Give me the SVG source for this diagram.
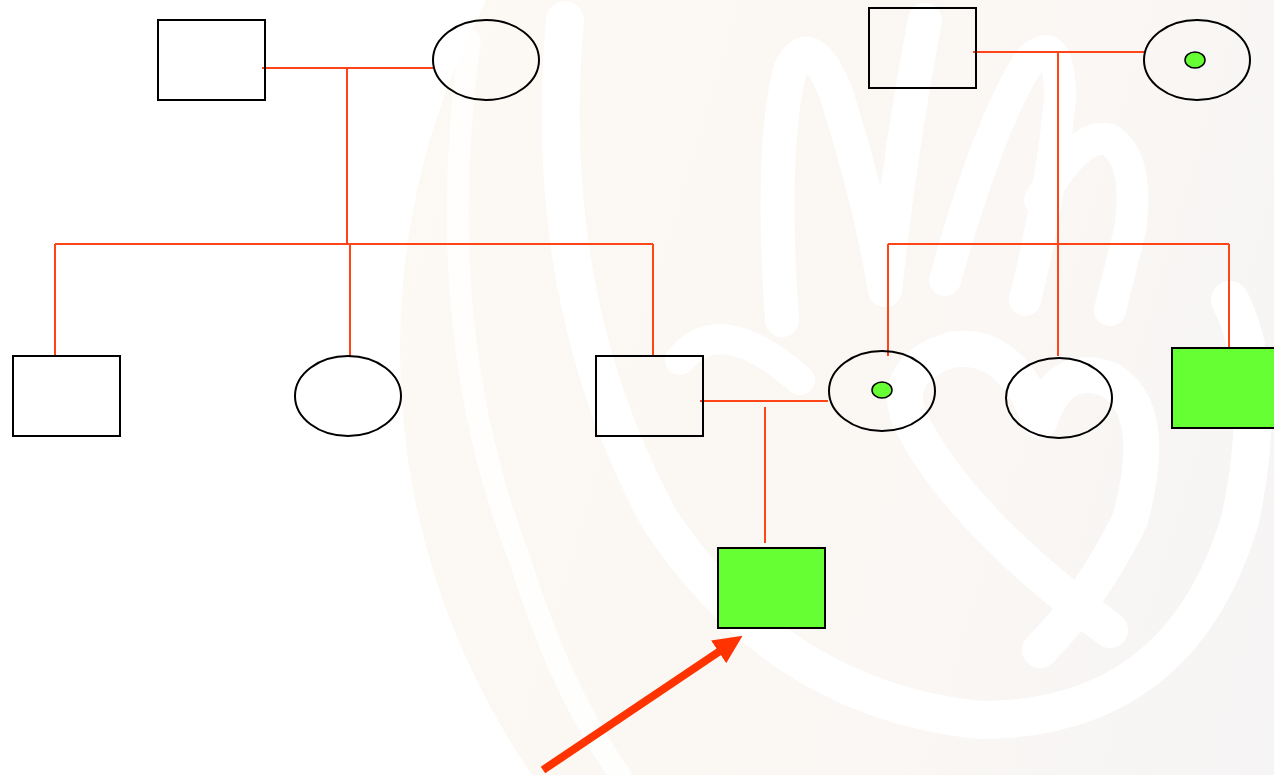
<svg xmlns="http://www.w3.org/2000/svg" width="1274" height="775" viewBox="0 0 1274 775">
  <defs>
    <linearGradient id="wash" x1="0" y1="0" x2="1" y2="0.3">
      <stop offset="0" stop-color="#fdf9f3"/>
      <stop offset="0.5" stop-color="#faf7f4"/>
      <stop offset="1" stop-color="#f2f2f5"/>
    </linearGradient>
    <marker id="arrowhead" markerWidth="3.6" markerHeight="3.4" refX="0.2" refY="1.7" orient="auto" markerUnits="strokeWidth">
      <path d="M0,0 L3.6,1.7 L0,3.4 Z" fill="#ff3300"/>
    </marker>
    <style>
      .link { stroke: #ff4418; stroke-width: 2; fill: none; }
      .person { stroke: #000; stroke-width: 2; fill: none; }
      .affected { fill: #66ff33; }
      .carrier { stroke: #000; stroke-width: 1.5; fill: #66ff33; }
      .mark { stroke: #fff; fill: none; stroke-linecap: round; stroke-linejoin: round; }
    </style>
  </defs>

  <!-- background -->
  <rect width="1274" height="775" fill="#fff"/>
  <g id="watermark">
    <circle cx="1150" cy="350" r="750" fill="url(#wash)"/>
    <path class="mark" stroke-width="22" stroke-opacity="0.8" d="M470 40 Q430 330 520 560 Q560 690 620 775"/>
    <path class="mark" stroke-width="38" d="M565 20 Q540 300 660 520 Q780 700 980 720 Q1180 720 1240 520 Q1270 380 1230 300"/>
    <path class="mark" stroke-width="36" d="M1110 630 Q960 520 910 420 Q890 370 950 350 Q1010 340 1040 420 Q1060 360 1110 380 Q1160 410 1130 520 Q1090 600 1040 650"/>
    <path class="mark" stroke-width="34" d="M782 320 Q770 150 790 70 Q810 30 835 90 Q870 200 885 290 Q900 150 925 20"/>
    <path class="mark" stroke-width="32" d="M945 280 Q990 120 1030 60 Q1060 30 1060 100 Q1050 200 1025 300"/>
    <path class="mark" stroke-width="32" d="M1040 200 Q1080 130 1110 140 Q1140 160 1130 230 L1110 310"/>
    <path class="mark" stroke-width="30" d="M680 360 Q720 310 800 380"/>
  </g>

  <!-- connectors -->
  <g id="connectors">
    <path class="link" d="M262 68 H433 M347 68 V244 M55 244 H653 M55 244 V356 M350 244 V356 M653 244 V356"/>
    <path class="link" d="M973 52 H1145 M1058 52 V356 M888 244 H1229 M888 244 V356 M1229 244 V348"/>
    <path class="link" d="M700 401 H828 M765 407 V543"/>
    <line x1="543" y1="770" x2="720" y2="651" stroke="#ff3300" stroke-width="8" marker-end="url(#arrowhead)"/>
  </g>

  <!-- generation I -->
  <g id="grandfather-paternal"><rect class="person" x="158" y="20" width="107" height="80"/></g>
  <g id="grandmother-paternal"><ellipse class="person" cx="486" cy="60" rx="53" ry="40"/></g>
  <g id="grandfather-maternal"><rect class="person" x="869" y="8" width="107" height="80"/></g>
  <g id="grandmother-maternal">
    <ellipse class="person" cx="1197" cy="60" rx="53" ry="40"/>
    <ellipse class="carrier" cx="1195" cy="60" rx="10" ry="8"/>
  </g>

  <!-- generation II -->
  <g id="uncle-paternal"><rect class="person" x="13" y="356" width="107" height="80"/></g>
  <g id="aunt-paternal"><ellipse class="person" cx="348" cy="396" rx="53" ry="40"/></g>
  <g id="father"><rect class="person" x="596" y="356" width="107" height="80"/></g>
  <g id="mother">
    <ellipse class="person" cx="882" cy="391" rx="53" ry="40"/>
    <ellipse class="carrier" cx="882" cy="390" rx="10" ry="8"/>
  </g>
  <g id="aunt-maternal"><ellipse class="person" cx="1059" cy="398" rx="53" ry="40"/></g>
  <g id="uncle-maternal"><rect class="person affected" x="1172" y="348" width="107" height="80"/></g>

  <!-- generation III -->
  <g id="proband"><rect class="person affected" x="718" y="548" width="107" height="80"/></g>
</svg>
